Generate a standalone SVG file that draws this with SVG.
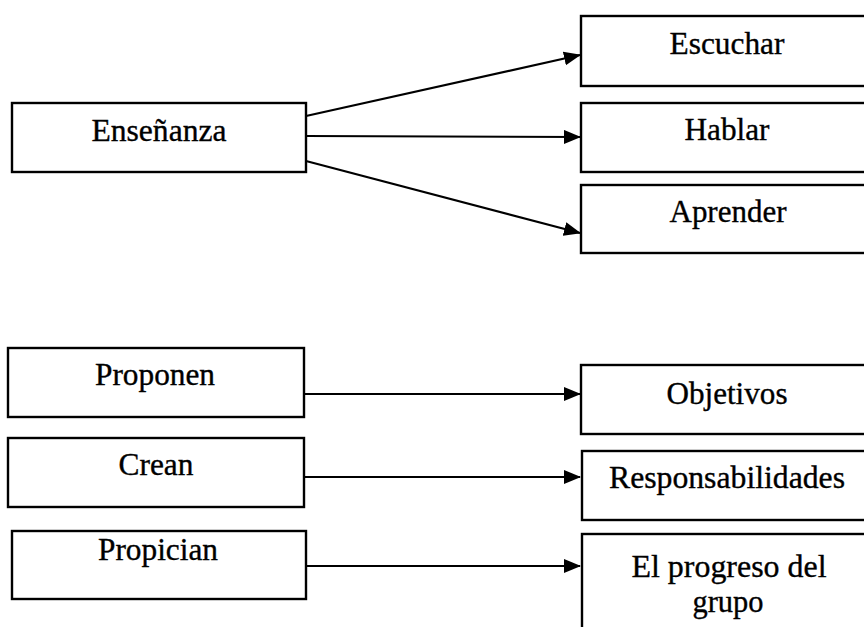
<svg xmlns="http://www.w3.org/2000/svg" width="864" height="627" viewBox="0 0 864 627">
<style>
.box{fill:#fff;stroke:#000;stroke-width:2.4}
.lbl{font-family:"Liberation Serif","Times New Roman",serif;font-size:31px;fill:#000;stroke:#000;stroke-width:0.35;text-anchor:middle}
.con{stroke:#000;stroke-width:2.2;fill:none;marker-end:url(#ah)}
</style>
<defs>
<marker id="ah" markerUnits="userSpaceOnUse" markerWidth="18" markerHeight="15" refX="16" refY="7" orient="auto">
<path d="M0,0 L17,7 L0,14 z" fill="#000"/>
</marker>
</defs>
<rect width="864" height="627" fill="#fff"/>
<g id="connectors">
<line class="con" x1="306" y1="116" x2="580" y2="55"/>
<line class="con" x1="306" y1="136" x2="580" y2="137"/>
<line class="con" x1="306" y1="161" x2="580" y2="233"/>
<line class="con" x1="304" y1="394" x2="580" y2="394"/>
<line class="con" x1="304" y1="477" x2="580" y2="477"/>
<line class="con" x1="306" y1="566" x2="580" y2="566"/>
</g>
<g id="ensenanza">
<rect class="box" x="12" y="103" width="294" height="69"/>
<text class="lbl" x="159" y="141" textLength="135" lengthAdjust="spacingAndGlyphs">Enseñanza</text>
</g>
<g id="escuchar">
<rect class="box" x="581" y="16" width="290" height="70"/>
<text class="lbl" x="727" y="54" textLength="115" lengthAdjust="spacingAndGlyphs">Escuchar</text>
</g>
<g id="hablar">
<rect class="box" x="581" y="103" width="290" height="69"/>
<text class="lbl" x="727" y="140" textLength="85" lengthAdjust="spacingAndGlyphs">Hablar</text>
</g>
<g id="aprender">
<rect class="box" x="581" y="185" width="290" height="68"/>
<text class="lbl" x="728" y="222" textLength="117" lengthAdjust="spacingAndGlyphs">Aprender</text>
</g>
<g id="proponen">
<rect class="box" x="8" y="348" width="296" height="69"/>
<text class="lbl" x="155" y="385" textLength="120" lengthAdjust="spacingAndGlyphs">Proponen</text>
</g>
<g id="crean">
<rect class="box" x="8" y="438" width="296" height="69"/>
<text class="lbl" x="156" y="475" textLength="75" lengthAdjust="spacingAndGlyphs">Crean</text>
</g>
<g id="propician">
<rect class="box" x="12" y="531" width="294" height="68"/>
<text class="lbl" x="158" y="560" textLength="120" lengthAdjust="spacingAndGlyphs">Propician</text>
</g>
<g id="objetivos">
<rect class="box" x="581" y="365" width="290" height="69"/>
<text class="lbl" x="727" y="404" textLength="121" lengthAdjust="spacingAndGlyphs">Objetivos</text>
</g>
<g id="responsabilidades">
<rect class="box" x="582" y="451" width="289" height="69"/>
<text class="lbl" x="727" y="488" textLength="236" lengthAdjust="spacingAndGlyphs">Responsabilidades</text>
</g>
<g id="progreso">
<rect class="box" x="582" y="534" width="289" height="100"/>
<text class="lbl" x="729" y="577" textLength="195" lengthAdjust="spacingAndGlyphs">El progreso del</text>
<text class="lbl" x="728" y="612" textLength="71" lengthAdjust="spacingAndGlyphs">grupo</text>
</g>
</svg>
